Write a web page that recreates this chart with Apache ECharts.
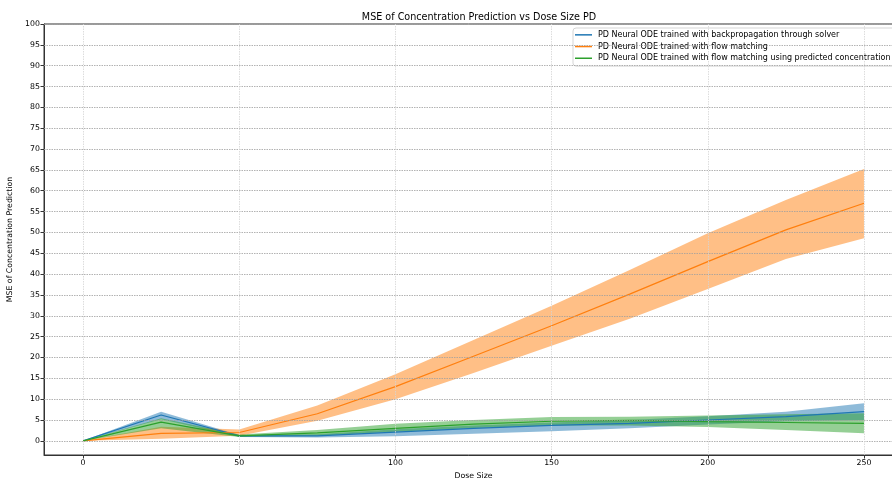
<!DOCTYPE html>
<html><head><meta charset="utf-8">
<script src="https://cdn.jsdelivr.net/npm/echarts@6/dist/echarts.min.js"></script>
<style>html,body{margin:0;padding:0;background:#fff;overflow:hidden}#c{width:892px;height:480px}</style>
</head><body><div id="c"></div>
<script>
const doses = [0, 25, 50, 75, 100, 125, 150, 175, 200, 225, 250];
const bpMean = [0, 6.2, 1.2, 1.2, 2.1, 3.0, 3.7, 4.2, 5.0, 5.8, 7.0];
const bpLow  = [0, 5.2, 0.9, 0.8, 1.1, 1.7, 2.3, 3.0, 3.9, 4.7, 5.0];
const bpHigh = [0, 7.0, 1.4, 1.6, 2.8, 3.7, 4.4, 5.0, 5.9, 7.0, 9.0];
const fmMean = [0, 1.8, 2.0, 6.5, 13.0, 20.3, 27.6, 35.2, 43.0, 50.6, 57.0];
const fmLow  = [0, 0.5, 1.2, 4.8, 10.0, 16.3, 22.8, 29.3, 36.4, 43.6, 48.6];
const fmHigh = [0, 3.4, 2.7, 8.5, 16.0, 24.2, 32.4, 41.0, 49.8, 57.8, 65.2];
const fmpMean = [0, 4.5, 1.2, 1.9, 3.0, 4.0, 4.7, 4.9, 4.6, 4.4, 4.2];
const fmpLow  = [0, 3.0, 0.9, 1.2, 2.2, 3.1, 3.7, 3.7, 3.3, 2.6, 1.8];
const fmpHigh = [0, 5.4, 1.5, 2.6, 4.1, 5.0, 5.7, 5.8, 6.1, 6.4, 6.6];
const xTicks = [0, 50, 100, 150, 200, 250];
const yTicks = [0,5,10,15,20,25,30,35,40,45,50,55,60,65,70,75,80,85,90,95,100];
const names = [
  'PD Neural ODE trained with backpropagation through solver',
  'PD Neural ODE trained with flow matching',
  'PD Neural ODE trained with flow matching using predicted concentration'
];
const colors = ['#1f77b4', '#ff7f0e', '#2ca02c'];
const groups = [[bpMean, bpLow, bpHigh], [fmMean, fmLow, fmHigh], [fmpMean, fmpLow, fmpHigh]];

const font = 'DejaVu Sans';
const fs = 7.8;
const series = [];
series.push({
  type: 'line', data: [], silent: true, z: 0,
  markLine: {
    symbol: 'none', silent: true, label: { show: false }, animation: false,
    lineStyle: { color: '#a0a0a0', type: [1.5, 1], width: 0.8 },
    data: yTicks.map(v => ({ yAxis: v }))
  }
});
series.push({
  type: 'line', data: [], silent: true, z: 0,
  markLine: {
    symbol: 'none', silent: true, label: { show: false }, animation: false,
    lineStyle: { color: '#d4d4d4', type: [1.5, 1], width: 0.8 },
    data: xTicks.map(v => ({ xAxis: v }))
  }
});
groups.forEach((g, i) => {
  const [m, lo, hi] = g;
  series.push({
    type: 'custom', silent: true, z: 1, clip: true,
    data: doses.map((d, k) => [d, lo[k], hi[k]]),
    encode: { x: 0, y: [1, 2] },
    renderItem: (params, api) => {
      if (params.dataIndex !== 0) return null;
      const pts = [];
      for (let k = 0; k < doses.length; k++) pts.push(api.coord([doses[k], hi[k]]));
      for (let k = doses.length - 1; k >= 0; k--) pts.push(api.coord([doses[k], lo[k]]));
      return { type: 'polygon', shape: { points: pts }, style: { fill: colors[i], opacity: 0.5 } };
    }
  });
});
groups.forEach((g, i) => {
  const m = g[0];
  series.push({
    name: names[i], type: 'line', symbol: 'none', z: 3,
    data: doses.map((d, k) => [d, m[k]]),
    lineStyle: { color: colors[i], width: 1.2 },
    itemStyle: { color: colors[i] }
  });
});

const chart = echarts.init(document.getElementById('c'), null, { renderer: 'canvas' });
chart.setOption({
  animation: false,
  backgroundColor: '#fff',
  title: {
    text: 'MSE of Concentration Prediction vs Dose Size PD',
    left: 474, top: 7, textAlign: 'center',
    textStyle: { fontFamily: font, fontSize: 9.6, fontWeight: 'normal', color: '#000' }
  },
  legend: {
    data: names, orient: 'vertical', left: 573, top: 28,
    itemWidth: 17, itemHeight: 1.5, itemGap: 0, icon: 'rect',
    padding: [1, 12, 2, 2],
    borderColor: '#d5d5d5', borderWidth: 1, borderRadius: 3,
    backgroundColor: 'rgba(255,255,255,0.8)',
    textStyle: { fontFamily: font, fontSize: 8, color: '#000', lineHeight: 11.7, padding: [0, 0, 0, 1] }
  },
  grid: {
    left: 44, top: 24, width: 859, height: 431,
    containLabel: false, outerBoundsMode: 'none',
    show: true, borderColor: '#333', borderWidth: 1, backgroundColor: 'transparent'
  },
  xAxis: {
    type: 'value', min: -12.5, max: 262.5,
    name: 'Dose Size', nameLocation: 'middle', nameGap: 15,
    nameTextStyle: { fontFamily: font, fontSize: fs, color: '#000' },
    axisLine: { show: true, onZero: false, lineStyle: { color: '#333' } },
    axisTick: { show: true, customValues: xTicks, length: 3.5, lineStyle: { color: '#333' } },
    axisLabel: { customValues: xTicks, fontFamily: font, fontSize: fs, color: '#000', margin: 4 },
    splitLine: { show: false }
  },
  yAxis: {
    type: 'value', min: -3.4, max: 100,
    name: 'MSE of Concentration Prediction', nameLocation: 'middle', nameGap: 20,
    nameTextStyle: { fontFamily: font, fontSize: fs, color: '#000' },
    axisLine: { show: true, onZero: false, lineStyle: { color: '#333' } },
    axisTick: { show: true, customValues: yTicks, length: 3.5, lineStyle: { color: '#333' } },
    axisLabel: { customValues: yTicks, fontFamily: font, fontSize: fs, color: '#000', margin: 4 },
    splitLine: { show: false }
  },
  series: series
});
</script></body></html>
